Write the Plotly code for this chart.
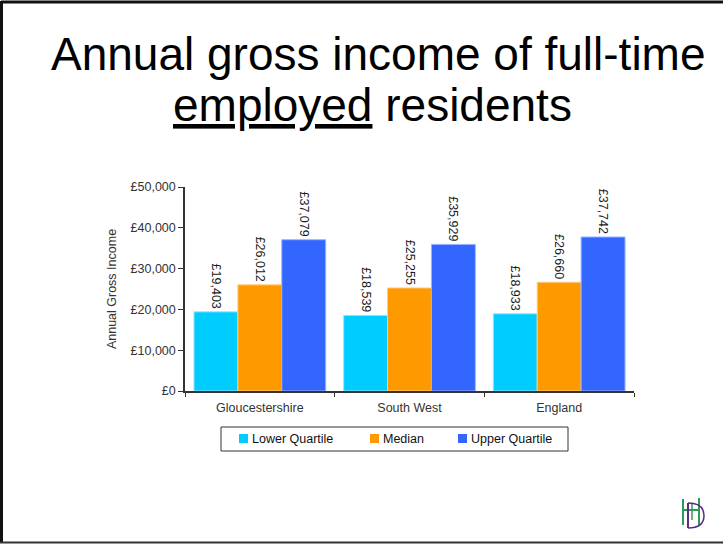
import plotly.graph_objects as go

# Income data (GBP)
regions = ["Gloucestershire", "South West", "England"]
lower_quartile = [19403, 18539, 18933]
median = [26012, 25255, 26660]
upper_quartile = [37079, 35929, 37742]
series_names = ["Lower Quartile", "Median", "Upper Quartile"]
y_ticks = [0, 10000, 20000, 30000, 40000, 50000]
y_tick_labels = [f"£{v:,}" for v in y_ticks]

W, H = 723, 545
L, R, T, B = 185, 89, 187, 154
FONT = "Arial, Liberation Sans, sans-serif"
FS = 12.5

colors = ["#00CCFF", "#FF9900", "#3366FF"]
edges = ["#99E6FF", "#FFCC80", "#99B3FF"]

fig = go.Figure()
for name, vals, c, e in zip(series_names, [lower_quartile, median, upper_quartile], colors, edges):
    fig.add_trace(go.Bar(
        x=regions, y=vals, name=name,
        marker=dict(color=c, line=dict(color=e, width=1)),
        text=[f"£{v:,}" for v in vals],
        textposition="outside", textangle=90, constraintext="none",
        cliponaxis=False,
        textfont=dict(family=FONT, size=FS, color="#1a1a1a"),
    ))

# paper-coordinate helpers for decorations outside the plot area
pw, ph = W - L - R, H - T - B
def px(x):
    return (x - L) / pw
def py(y):
    return (H - B - y) / ph

def pline(x0, y0, x1, y1, color, width):
    return dict(type="line", xref="paper", yref="paper",
                x0=px(x0), x1=px(x1), y0=py(y0), y1=py(y1),
                line=dict(color=color, width=width))

GREEN, PURPLE = "#2E9B5A", "#5B2C83"
shapes = [
    # slide frame
    pline(1, 2, 723, 2, "#111", 3),
    pline(1.5, 1, 1.5, 543, "#111", 3),
    pline(0, 542.5, 723, 542.5, "#333", 2),
    # logo
    pline(683, 499, 683, 525, GREEN, 2),
    pline(683, 510, 699, 510, GREEN, 2),
    pline(699, 498, 699, 525, GREEN, 2),
    pline(692, 504, 692, 520, GREEN, 1.5),
    pline(688, 503, 688, 528, PURPLE, 2),
    dict(type="path", xref="paper", yref="paper",
         path=f"M {px(688)} {py(503)} Q {px(704)} {py(503)} {px(704)} {py(515.5)} "
              f"Q {px(704)} {py(528)} {px(688)} {py(528)}",
         line=dict(color=PURPLE, width=1.5)),
    # legend box
    dict(type="rect", xref="paper", yref="paper",
         x0=px(221), x1=px(568), y0=py(427), y1=py(451),
         line=dict(color="#333", width=1), fillcolor="white"),
]

annotations = [
    dict(text="Annual gross income of full-time", xref="paper", yref="paper",
         x=px(378), y=py(72), xanchor="center", yanchor="bottom", showarrow=False,
         font=dict(family=FONT, size=46, color="#000"), yshift=-10),
    dict(text="<u>employed</u> residents", xref="paper", yref="paper",
         x=px(372), y=py(123), xanchor="center", yanchor="bottom", showarrow=False,
         font=dict(family=FONT, size=46, color="#000"), yshift=-10),
]

# legend entries: swatch + label
legend_x = [239, 370, 458]
for name, c, lx in zip(series_names, colors, legend_x):
    shapes.append(dict(type="rect", xref="paper", yref="paper",
                       x0=px(lx), x1=px(lx + 9), y0=py(434), y1=py(443),
                       line=dict(width=0), fillcolor=c))
    annotations.append(dict(text=name, xref="paper", yref="paper",
                            x=px(lx + 11), y=py(438.5), xanchor="left", yanchor="middle",
                            showarrow=False, font=dict(family=FONT, size=FS, color="#111")))

fig.update_layout(
    width=W, height=H,
    margin=dict(l=L, r=R, t=T, b=B),
    paper_bgcolor="white", plot_bgcolor="white",
    barmode="group", bargap=0.12, bargroupgap=0,
    font=dict(family=FONT, size=FS, color="#222"),
    showlegend=False,
    shapes=shapes,
    annotations=annotations,
)

fig.update_xaxes(
    showline=True, linecolor="#333", linewidth=1.5,
    ticks="outside", ticklen=4, tickcolor="#333", tickson="boundaries",
    ticklabelstandoff=4,
    tickfont=dict(family=FONT, size=FS, color="#333"),
    showgrid=False, zeroline=False,
)
fig.update_yaxes(
    range=[0, 50000], tickvals=y_ticks, ticktext=y_tick_labels,
    showline=True, linecolor="#333", linewidth=1.5,
    ticks="outside", ticklen=5, tickcolor="#333",
    tickfont=dict(family=FONT, size=FS, color="#333"),
    showgrid=False, zeroline=False,
    title=dict(text="Annual Gross Income", font=dict(family=FONT, size=FS, color="#333"), standoff=11),
)

fig.write_html("out.html")
